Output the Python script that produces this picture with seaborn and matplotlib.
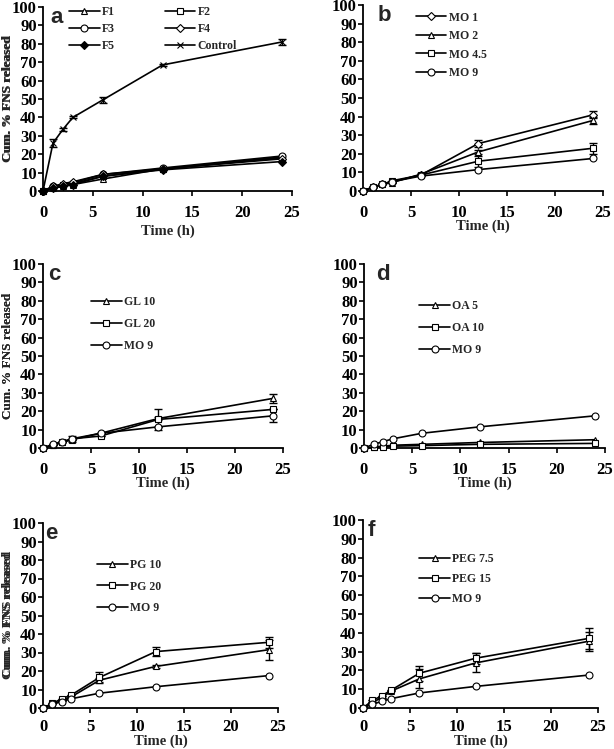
import matplotlib
matplotlib.use("Agg")
import matplotlib.pyplot as plt
import seaborn as sns
import pandas as pd

sns.set_style("ticks")
plt.rcParams["font.family"] = ["Liberation Serif", "DejaVu Serif"]
plt.rcParams["font.weight"] = "bold"

# sampling times (h)
time = [0, 1, 2, 3, 6, 12, 24]

# panel a
F1 = [0, 1.5, 2.5, 3.5, 6.5, 12, 18]
F2 = [0, 2, 3, 4, 8, 12, 18.5]
F3 = [0, 2.5, 3.5, 4.5, 9, 12.5, 19]
F4 = [0, 2.5, 4, 5, 9, 12, 17.5]
F5 = [0, 1.5, 2.5, 3.5, 8, 11.5, 16]
Control = [0, 26, 33.5, 40, 49.5, 68.5, 81]
Control_err = [0, 2, 1, 0.5, 1.5, 0.5, 1.5]

# panel b
MO1 = [0, 2, 3.5, 5, 8.5, 25.5, 41]
MO1_err = [0, 0, 0, 0, 0.5, 2, 2]
MO2 = [0, 2, 3.5, 4.5, 9, 21, 38]
MO2_err = [0, 0, 0, 0, 0.5, 1, 2]
MO45 = [0, 2, 3.5, 5.5, 8.5, 16, 23]
MO45_err = [0, 0, 0, 0, 0, 3, 3]
MO9 = [0, 2, 3.5, 5, 8, 11.5, 17.5]

# panel c
GL10 = [0, 1.5, 3, 4.5, 8, 16, 27]
GL10_err = [0, 0, 0, 0, 0, 1, 2.5]
GL20 = [0, 1.5, 3, 5, 6.5, 15.5, 21]
GL20_err = [0, 0, 0, 1.5, 0, 5.5, 0]
MO9_c_err = [0, 0, 0, 0, 0, 0, 3.5]

# panel d
OA5 = [0, 0.5, 1, 1.5, 2, 3, 4.5]
OA10 = [0, 0.3, 0.7, 1, 1.3, 2, 2.5]

# panel e
PG10 = [0, 2, 4, 6, 15, 22.5, 31.5]
PG10_err = [0, 0, 0, 0, 1, 1, 5.5]
PG20 = [0, 2.5, 5, 7, 16.5, 30.5, 35.5]
PG20_err = [0, 0, 0, 0, 3, 2.5, 3]

# panel f
PEG75 = [0, 3, 5.5, 9, 15.5, 24, 35.5]
PEG75_err = [0, 0, 0, 0, 5, 5, 5]
PEG15 = [0, 4, 6.5, 9.5, 18.5, 26.5, 37]
PEG15_err = [0, 0, 0, 0, 4, 3, 5.5]

W, H = 614, 749
fig = plt.figure(figsize=(W / 100, H / 100), dpi=100)


def make_ax(left, right, top, bottom):
    ax = fig.add_axes([left / W, (H - bottom) / H, (right - left) / W, (bottom - top) / H])
    ax._px = (left, right, top, bottom)
    return ax


def draw(ax, x, y, label, marker, err=None, filled=False, ms=5):
    df = pd.DataFrame({"t": x, "y": y})
    sns.lineplot(data=df, x="t", y="y", ax=ax, color="black", lw=1.2,
                 marker=marker, markersize=ms, markeredgecolor="black",
                 markerfacecolor="black" if filled else "white",
                 markeredgewidth=0.8, label=label, clip_on=False, zorder=3)
    if err is not None:
        ax.errorbar(x, y, yerr=err, fmt="none", ecolor="black", elinewidth=1,
                    capsize=3, capthick=1, clip_on=False, zorder=2)


def style(ax, letter, letter_x, xlabel_y, xpad=6.5):
    left, right, top, bottom = ax._px
    ax.set_xlim(0, 25)
    ax.set_ylim(0, 100)
    ax.set_xticks([0, 5, 10, 15, 20, 25])
    ax.set_yticks(range(0, 101, 10))
    ax.tick_params(axis="both", direction="out", length=3.5, width=1.2, labelsize=12, colors="black")
    ax.tick_params(axis="x", pad=xpad)
    ax.tick_params(axis="y", pad=1)
    for lab in ax.get_xticklabels() + ax.get_yticklabels():
        lab.set_fontweight("bold")
    for s in ["left", "bottom"]:
        ax.spines[s].set_linewidth(1.3)
        ax.spines[s].set_color("black")
    sns.despine(ax=ax)
    ax.set_xlabel("Time (h)", fontsize=10.5, fontweight="bold", va="center")
    ax.xaxis.set_label_coords(0.5, -(xlabel_y - bottom) / (bottom - top))
    ax.set_ylabel("Cum. % FNS released", fontsize=9.5, fontweight="bold", va="center")
    ax.yaxis.set_label_coords(-(left - 8) / (right - left), 0.5)
    ax.text(letter_x, 1.0, letter, transform=ax.transAxes, ha="left", va="top",
            fontsize=16, family="Liberation Sans")


legend_font = {"weight": "bold", "size": 8.5}

# panel a
ax = make_ax(43, 292, 7, 191)
draw(ax, time, F1, "F1", "^")
draw(ax, time, F2, "F2", "s")
draw(ax, time, F3, "F3", "o")
draw(ax, time, F4, "F4", "D", ms=4)
draw(ax, time, F5, "F5", "D", filled=True, ms=4)
draw(ax, time, Control, "Control", "x", err=Control_err)
style(ax, "a", 0.03, 231)
h, l = ax.get_legend_handles_labels()
order = [0, 2, 4, 1, 3, 5]
ax.legend([h[i] for i in order], [l[i] for i in order], ncol=2, loc="upper left",
          bbox_to_anchor=(0.085, 1.03), frameon=False, borderaxespad=0,
          prop=legend_font, handlelength=2.6, columnspacing=4.2,
          labelspacing=0.4, handletextpad=0.2)

# panel b
ax = make_ax(363, 603, 5, 191)
draw(ax, time, MO1, "MO 1", "D", err=MO1_err, ms=4)
draw(ax, time, MO2, "MO 2", "^", err=MO2_err)
draw(ax, time, MO45, "MO 4.5", "s", err=MO45_err)
draw(ax, time, MO9, "MO 9", "o")
style(ax, "b", 0.06, 226)
ax.legend(loc="upper left", bbox_to_anchor=(0.2, 0.99), frameon=False, borderaxespad=0,
          prop=legend_font, handlelength=2.6, labelspacing=0.55, handletextpad=0.2)

# panel c
ax = make_ax(43, 283, 264, 448)
draw(ax, time, GL10, "GL 10", "^", err=GL10_err)
draw(ax, time, GL20, "GL 20", "s", err=GL20_err)
draw(ax, time, MO9, "MO 9", "o", err=MO9_c_err)
style(ax, "c", 0.02, 483)
ax.legend(loc="upper left", bbox_to_anchor=(0.18, 0.85), frameon=False, borderaxespad=0,
          prop=legend_font, handlelength=2.6, labelspacing=0.85, handletextpad=0.2)

# panel d
ax = make_ax(364, 605, 264, 448)
draw(ax, time, OA5, "OA 5", "^")
draw(ax, time, OA10, "OA 10", "s")
draw(ax, time, MO9, "MO 9", "o")
style(ax, "d", 0.05, 483)
ax.legend(loc="upper left", bbox_to_anchor=(0.21, 0.83), frameon=False, borderaxespad=0,
          prop=legend_font, handlelength=2.6, labelspacing=0.85, handletextpad=0.2)

# panel e
ax = make_ax(43, 278, 523, 708)
draw(ax, time, PG10, "PG 10", "^", err=PG10_err)
draw(ax, time, PG20, "PG 20", "s", err=PG20_err)
draw(ax, time, MO9, "MO 9", "o")
style(ax, "e", 0.01, 741, xpad=4.5)
ax.legend(loc="upper left", bbox_to_anchor=(0.21, 0.83), frameon=False, borderaxespad=0,
          prop=legend_font, handlelength=2.6, labelspacing=0.8, handletextpad=0.2)

# panel f
ax = make_ax(363, 598, 520, 708)
draw(ax, time, PEG75, "PEG 7.5", "^", err=PEG75_err)
draw(ax, time, PEG15, "PEG 15", "s", err=PEG15_err)
draw(ax, time, MO9, "MO 9", "o")
style(ax, "f", 0.02, 741, xpad=4.5)
ax.legend(loc="upper left", bbox_to_anchor=(0.22, 0.85), frameon=False, borderaxespad=0,
          prop=legend_font, handlelength=2.6, labelspacing=0.7, handletextpad=0.2)

fig.savefig("out.png", dpi=100)
